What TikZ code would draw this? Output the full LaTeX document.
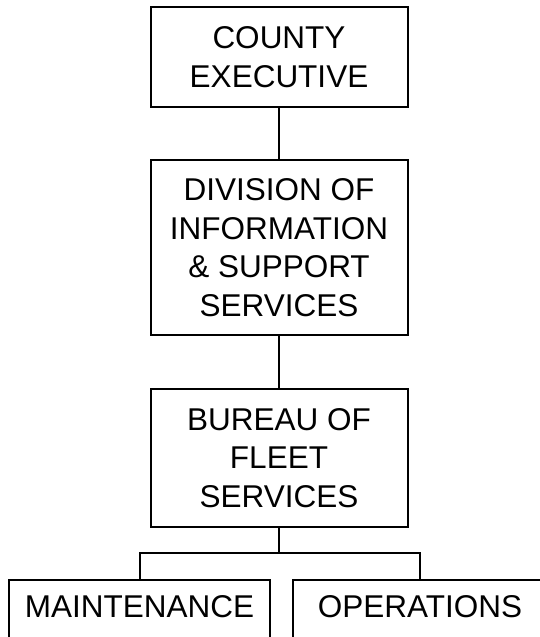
\documentclass[tikz,border=0pt]{standalone}
\usepackage{fontspec}
\setmainfont{Liberation Sans}
\begin{document}
\begin{tikzpicture}[x=1pt,y=-1pt,
  orgbox/.style={draw=black,line width=2pt,fill=white,inner sep=0pt,
    minimum width=257pt,align=center,
    font=\fontsize{31.5}{38.5}\selectfont},
  lowbox/.style={draw=black,line width=2pt,fill=white,inner sep=0pt,
    minimum height=70pt,text height=22.6pt,text depth=18.6pt,
    font=\fontsize{31.5}{38.5}\selectfont},
  link/.style={line width=2pt,line cap=rect}]
\fill[white] (0,0) rectangle (540,637);
\useasboundingbox (0,0) rectangle (540,637);
\clip (0,0) rectangle (540,637);
\node[orgbox,minimum height=100pt] (ce) at (279,57) {COUNTY\\EXECUTIVE};
\node[orgbox,minimum height=175pt] (dis) at (279,247.5) {DIVISION OF\\INFORMATION\\\& SUPPORT\\SERVICES};
\node[orgbox,minimum height=138pt] (bfs) at (279,458) {BUREAU OF\\FLEET\\SERVICES};
\node[lowbox,minimum width=261pt] (mnt) at (139.5,615) {MAINTENANCE};
\node[lowbox,minimum width=254pt] (ops) at (420,615) {OPERATIONS};
\coordinate (j) at (279,553);
\draw[link] (ce) -- (dis);
\draw[link] (dis) -- (bfs);
\draw[link] (bfs) -- (j);
\draw[link] (j) -| (mnt.north);
\draw[link] (j) -| (ops.north);
\end{tikzpicture}
\end{document}
